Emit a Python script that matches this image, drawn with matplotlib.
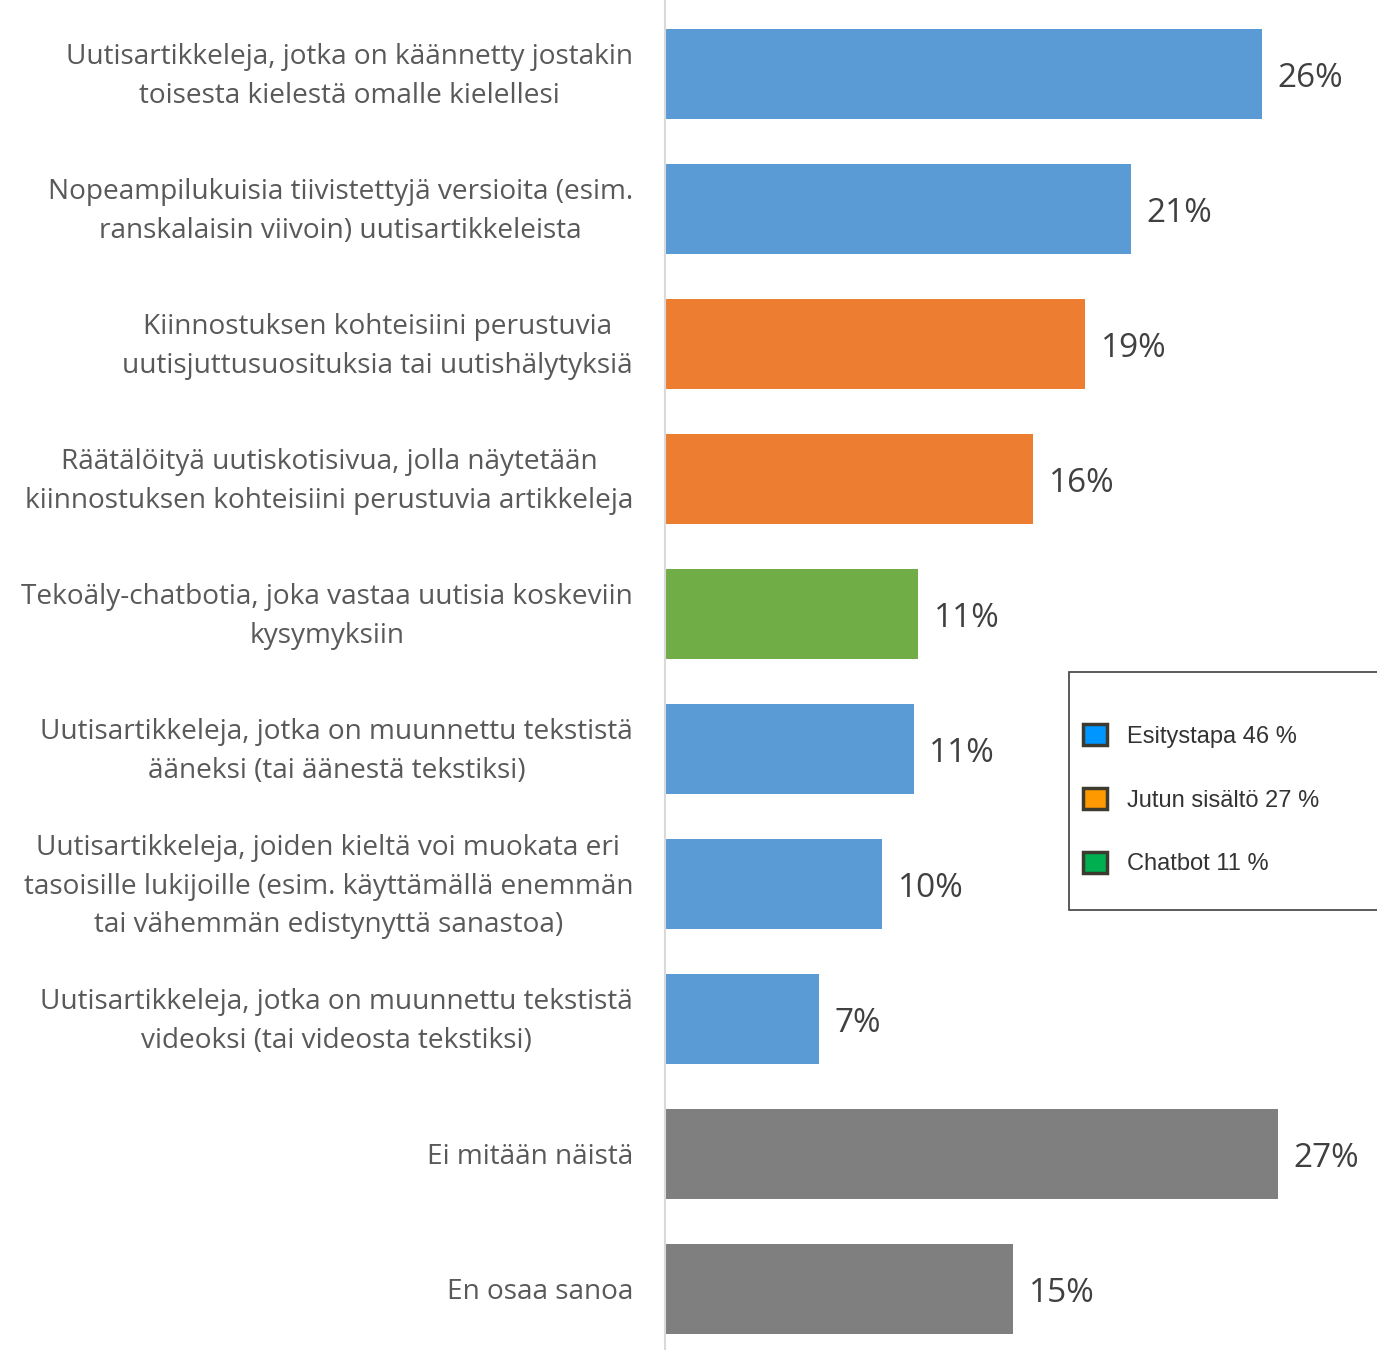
import matplotlib
matplotlib.use('Agg')
import matplotlib.pyplot as plt
import matplotlib.transforms as mtransforms
from matplotlib.patches import Patch, Rectangle

labels = [
    'Uutisartikkeleja, jotka on käännetty jostakin\ntoisesta kielestä omalle kielellesi',
    'Nopeampilukuisia tiivistettyjä versioita (esim.\nranskalaisin viivoin) uutisartikkeleista',
    'Kiinnostuksen kohteisiini perustuvia\nuutisjuttusuosituksia tai uutishälytyksiä',
    'Räätälöityä uutiskotisivua, jolla näytetään\nkiinnostuksen kohteisiini perustuvia artikkeleja',
    'Tekoäly-chatbotia, joka vastaa uutisia koskeviin\nkysymyksiin',
    'Uutisartikkeleja, jotka on muunnettu tekstistä\nääneksi (tai äänestä tekstiksi)',
    'Uutisartikkeleja, joiden kieltä voi muokata eri\ntasoisille lukijoille (esim. käyttämällä enemmän\ntai vähemmän edistynyttä sanastoa)',
    'Uutisartikkeleja, jotka on muunnettu tekstistä\nvideoksi (tai videosta tekstiksi)',
    'Ei mitään näistä',
    'En osaa sanoa',
]
values = [26.4, 20.6, 18.6, 16.3, 11.2, 11.0, 9.6, 6.8, 27.1, 15.4]
groups = ['blue', 'blue', 'orange', 'orange', 'green', 'blue', 'blue', 'blue', 'gray', 'gray']

bar_colors = {'blue': '#5B9BD5', 'orange': '#ED7D31', 'green': '#70AD47', 'gray': '#7F7F7F'}
legend_labels = ['Esitystapa 46 %', 'Jutun sisältö 27 %', 'Chatbot 11 %']
legend_colors = ['#0096FF', '#FF9900', '#00B050']

fig = plt.figure(figsize=(13.77, 13.5), dpi=100)
ax = fig.add_axes([665 / 1377, 0, 1 - 665 / 1377, 1])

y = list(range(len(values)))
ax.barh(y, values, height=0.66, color=[bar_colors[g] for g in groups])

for yi, v in zip(y, values):
    ax.text(v + 0.7, yi + 0.03, f'{round(v)}%', va='center', ha='left',
            fontsize=24, color='#404040', family='Open Sans')

ax.set_ylim(9.452, -0.548)
ax.set_xlim(0, 31.5)
ax.set_yticks(y)
ax.set_yticklabels(labels, fontsize=20.2, color='#595959', family='Open Sans',
                   multialignment='center', linespacing=1.5)
ax.tick_params(axis='y', length=0, pad=23)
# multi-line labels sit a bit low, nudge them up
up = mtransforms.ScaledTranslation(0, 0.06, fig.dpi_scale_trans)
for lbl in ax.get_yticklabels():
    if '\n' in lbl.get_text():
        lbl.set_transform(lbl.get_transform() + up)
ax.set_xticks([])
for s in ['top', 'right', 'bottom']:
    ax.spines[s].set_visible(False)
ax.spines['left'].set_color('#D9D9D9')
ax.spines['left'].set_linewidth(1.5)

# legend box, runs off the right edge
fig.patches.append(Rectangle((1069 / 1377, 1 - 910 / 1350), 0.3, (910 - 672) / 1350,
                             transform=fig.transFigure, facecolor='white',
                             edgecolor='#404040', linewidth=1.2, zorder=5))
handles = [Patch(facecolor=c, edgecolor='#3D3A30', linewidth=2.5) for c in legend_colors]
leg = fig.legend(handles, legend_labels, loc='upper left',
                 bbox_to_anchor=(1062 / 1377, 1 - 703 / 1350), frameon=False,
                 prop={'family': 'Liberation Sans', 'size': 17},
                 handlelength=1.0, handleheight=1.0, handletextpad=0.85,
                 labelspacing=1.7, labelcolor='#333333')
leg.set_zorder(6)

fig.savefig('out.png', dpi=100)
